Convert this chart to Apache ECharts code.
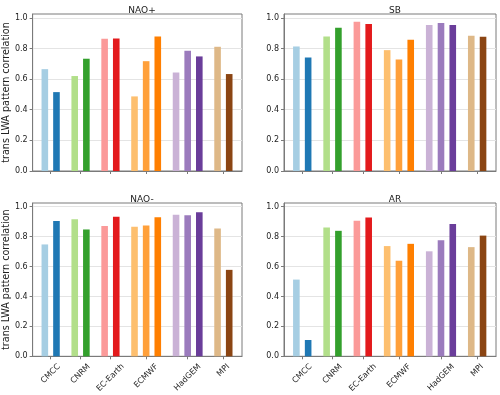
<!DOCTYPE html>
<html>
<head>
<meta charset="utf-8">
<script src="https://cdn.jsdelivr.net/npm/echarts@6/dist/echarts.min.js"></script>
<style>
  html, body { margin: 0; padding: 0; background: #fff; }
  #chart { width: 500px; height: 395px; }
</style>
</head>
<body>
<div id="chart"></div>
<script>
// models and how many runs each one has
const models = ['CMCC', 'CNRM', 'EC-Earth', 'ECMWF', 'HadGEM', 'MPI']
const runsPerModel = [2, 2, 2, 3, 3, 2]

// pattern correlation per run, one array per regime
const naoPlus = [0.665, 0.515, 0.62, 0.733, 0.863, 0.865, 0.487, 0.717, 0.878, 0.643, 0.785, 0.748, 0.811, 0.633]
const sb = [0.813, 0.741, 0.878, 0.935, 0.974, 0.959, 0.789, 0.728, 0.857, 0.954, 0.967, 0.954, 0.883, 0.876]
const naoMinus = [0.748, 0.904, 0.917, 0.848, 0.872, 0.933, 0.867, 0.874, 0.930, 0.946, 0.943, 0.963, 0.854, 0.578]
const ar = [0.513, 0.109, 0.861, 0.839, 0.907, 0.928, 0.737, 0.639, 0.752, 0.702, 0.776, 0.885, 0.730, 0.807]

const panelTitles = ['NAO+', 'SB', 'NAO-', 'AR']
const panelData = [naoPlus, sb, naoMinus, ar]
const yTicks = [0, 0.2, 0.4, 0.6, 0.8, 1.0]

const barColors = [
  '#a6cee3', '#1f78b4',
  '#b2df8a', '#33a02c',
  '#fb9a99', '#e31a1c',
  '#fdbf6f', '#ffa03a', '#ff7f00',
  '#cab2d6', '#9b7bbd', '#6a3d9a',
  '#deb887', '#8b4513'
]

// bar positions: step 1 inside a model, wider gap between models
const xs = []
const centers = []
let x = 1.05
runsPerModel.forEach(n => {
  const start = x
  for (let i = 0; i < n; i++) { xs.push(x); x += 1 }
  centers.push((start + x - 1) / 2)
  x += 0.57
})
const xMax = 18

const grids = [
  { left: 32, top: 14, width: 210, height: 157 },
  { left: 284, top: 14, width: 212, height: 157 },
  { left: 32, top: 203, width: 210, height: 156 },
  { left: 284, top: 203, width: 212, height: 156 }
]

// shift rotated labels so they sit like centred matplotlib labels
const tickSize = 8
const ctx = document.createElement('canvas').getContext('2d')
ctx.font = tickSize + 'px "DejaVu Sans"'
const labelShiftPx = models.map(m => ctx.measureText(m).width * 0.354)

var chartDom = document.getElementById('chart')
var myChart = echarts.init(chartDom)

const axisGray = '#7a7a7a'
const xAxes = []
const yAxes = []
const series = []
const titles = []

grids.forEach((g, p) => {
  const bottom = p >= 2
  const left = p % 2 === 0
  const unitsPerPx = xMax / g.width
  const labelPos = centers.map((c, i) => c + labelShiftPx[i] * unitsPerPx)
  xAxes.push({
    type: 'value',
    gridIndex: p,
    min: 0,
    max: xMax,
    axisLine: { show: true, lineStyle: { color: axisGray, width: 1 } },
    axisTick: { show: true, customValues: centers, length: 3, lineStyle: { color: axisGray } },
    splitLine: { show: false },
    axisLabel: {
      show: bottom,
      customValues: labelPos,
      rotate: 45,
      margin: 9,
      fontFamily: 'DejaVu Sans',
      fontSize: tickSize,
      color: '#222',
      formatter: v => {
        let best = 0
        labelPos.forEach((lp, i) => { if (Math.abs(lp - v) < Math.abs(labelPos[best] - v)) best = i })
        return models[best]
      }
    }
  })
  yAxes.push({
    type: 'value',
    gridIndex: p,
    min: 0,
    max: 1.025,
    interval: 0.2,
    name: left ? 'trans LWA pattern correlation' : '',
    nameLocation: 'middle',
    nameGap: 19,
    nameTextStyle: { fontFamily: 'DejaVu Sans', fontSize: 9.6, color: '#222' },
    axisLine: { show: true, lineStyle: { color: axisGray, width: 1 } },
    axisTick: { show: true, customValues: yTicks, length: 3, lineStyle: { color: axisGray } },
    splitLine: { show: true, lineStyle: { color: '#e4e4e4', width: 1 } },
    axisLabel: {
      customValues: yTicks,
      margin: 5,
      fontFamily: 'DejaVu Sans',
      fontSize: tickSize,
      color: '#222',
      formatter: v => v.toFixed(1)
    }
  })
  series.push({
    type: 'bar',
    xAxisIndex: p,
    yAxisIndex: p,
    barWidth: 6.6,
    data: panelData[p].map((v, i) => ({
      value: [xs[i], v],
      itemStyle: { color: barColors[i] }
    }))
  })
  titles.push({
    text: panelTitles[p],
    left: g.left + g.width / 2,
    top: g.top - 13,
    textAlign: 'center',
    textStyle: { fontFamily: 'DejaVu Sans', fontSize: 9, fontWeight: 'normal', color: '#222' }
  })
})

var option = {
  animation: false,
  backgroundColor: '#fff',
  title: titles,
  grid: grids.map(g => Object.assign({ show: true, borderColor: axisGray, borderWidth: 1, backgroundColor: 'transparent' }, g)),
  xAxis: xAxes,
  yAxis: yAxes,
  series: series
}

option && myChart.setOption(option)
</script>
</body>
</html>
